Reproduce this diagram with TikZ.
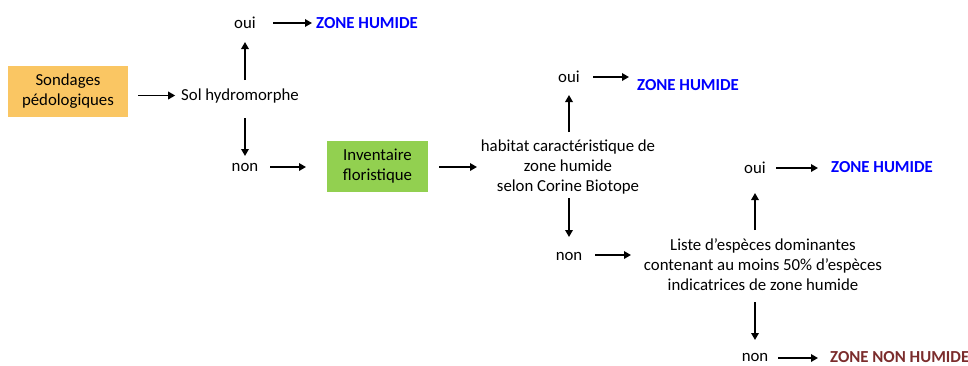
\documentclass[tikz,border=0pt]{standalone}
\usepackage{fontspec}
\setmainfont{Carlito}
\usetikzlibrary{arrows.meta}
\definecolor{orangebox}{HTML}{FAC663}
\definecolor{greenbox}{HTML}{92D050}
\definecolor{zhblue}{HTML}{0000FF}
\definecolor{zhred}{HTML}{7B2C2C}
\begin{document}
\begin{tikzpicture}[x=1pt,y=-1pt,
  txt/.style={font=\fontsize{16.8}{20}\selectfont, align=center, inner sep=0pt},
  box/.style={txt, minimum height=51pt},
  zone/.style={txt, font=\fontsize{16.8}{20}\selectfont\bfseries},
  arr/.style={-{Triangle[length=7pt,width=7.5pt]}, line width=1.7pt}]
\useasboundingbox (0,0) rectangle (968,365);
% first stage
\node[box, fill=orangebox, minimum width=120pt] (sond) at (68,91.5) {Sondages\\pédologiques};
\node[txt] (sol) at (240,96) {Sol hydromorphe};
\node[txt] (oui1) at (245,23) {oui};
\node[zone, text=zhblue, anchor=west] (zh1) at (316,23) {ZONE HUMIDE};
\node[txt] (non1) at (245,167) {non};
\node[box, fill=greenbox, minimum width=101pt] (inv) at (377.5,166) {Inventaire\\floristique};
% second stage
\node[txt] (hab) at (568,167) {habitat caractéristique de\\zone humide\\selon Corine Biotope};
\node[txt] (oui2) at (569,77) {oui};
\node[zone, text=zhblue, anchor=west] (zh2) at (637,85) {ZONE HUMIDE};
\node[txt] (non2) at (569,256) {non};
% third stage
\node[txt] (liste) at (763,265) {Liste d’espèces dominantes\\contenant au moins 50\% d’espèces\\indicatrices de zone humide};
\node[txt] (oui3) at (755,168) {oui};
\node[zone, text=zhblue, anchor=west] (zh3) at (831,167) {ZONE HUMIDE};
\node[txt] (non3) at (755,357) {non};
\node[zone, text=zhred, anchor=west] (zh4) at (830,357) {ZONE NON HUMIDE};
% arrows
\draw[arr] (sond.east) ++(10,4) -- ++(37,0);
\draw[arr] (245,80) -- (245,42);
\draw[arr] (273,23) -- (312,23);
\draw[arr] (245,118) -- (245,156);
\draw[arr] (270,167) -- (306,167);
\draw[arr] (439,167) -- (477,167);
\draw[arr] (569,132) -- (569,95);
\draw[arr] (593,77) -- (629,77);
\draw[arr] (569,198) -- (569,237);
\draw[arr] (595,255) -- (631,255);
\draw[arr] (755,230) -- (755,193);
\draw[arr] (776,168) -- (818,168);
\draw[arr] (755,302) -- (755,340);
\draw[arr] (778,358) -- (818,358);
\end{tikzpicture}
\end{document}
